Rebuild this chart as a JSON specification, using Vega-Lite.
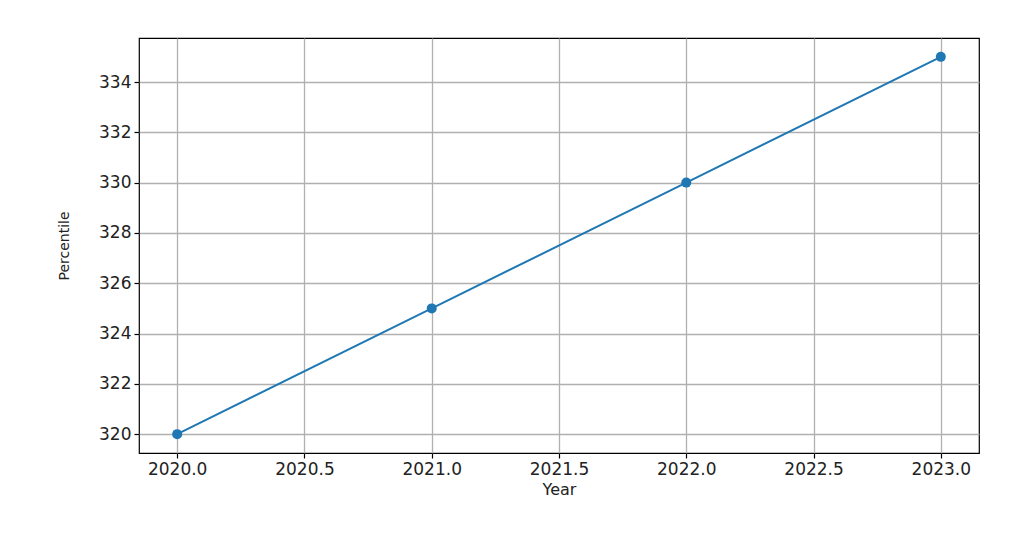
{
  "$schema": "https://vega.github.io/schema/vega-lite/v6.json",
  "width": 840,
  "height": 415,
  "autosize": "none",
  "padding": {"left": 139, "top": 38, "right": 52, "bottom": 83},
  "background": "white",
  "data": {
    "values": [
      {"year": 2020, "percentile": 320},
      {"year": 2021, "percentile": 325},
      {"year": 2022, "percentile": 330},
      {"year": 2023, "percentile": 335}
    ]
  },
  "encoding": {
    "x": {
      "field": "year",
      "type": "quantitative",
      "title": "Year",
      "scale": {"domain": [2019.85, 2023.15], "nice": false, "zero": false},
      "axis": {"values": [2020, 2020.5, 2021, 2021.5, 2022, 2022.5, 2023], "format": ".1f"}
    },
    "y": {
      "field": "percentile",
      "type": "quantitative",
      "title": "Percentile",
      "scale": {"domain": [319.25, 335.75], "nice": false, "zero": false},
      "axis": {"values": [320, 322, 324, 326, 328, 330, 332, 334], "titlePadding": 27}
    }
  },
  "layer": [
    {"mark": {"type": "line", "color": "#1f77b4", "strokeWidth": 2}},
    {"mark": {"type": "point", "filled": true, "opacity": 1, "color": "#1f77b4", "size": 100}}
  ],
  "config": {
    "view": {"stroke": "#000000", "strokeWidth": 1.2},
    "axis": {
      "grid": true,
      "gridColor": "#b0b0b0",
      "gridWidth": 1.3,
      "domain": false,
      "tickColor": "#000000",
      "tickSize": 5,
      "tickWidth": 1.2,
      "labelFont": "DejaVu Sans",
      "labelFontSize": 17,
      "labelColor": "#222222",
      "labelPadding": 3,
      "titleFont": "DejaVu Sans",
      "titleFontWeight": "normal",
      "titleColor": "#222222",
      "titleFontSize": 16,
      "labelFlush": false,
      "labelOverlap": false
    },
    "axisX": {"titlePadding": 4},
    "axisY": {"titleFontSize": 14}
  }
}
